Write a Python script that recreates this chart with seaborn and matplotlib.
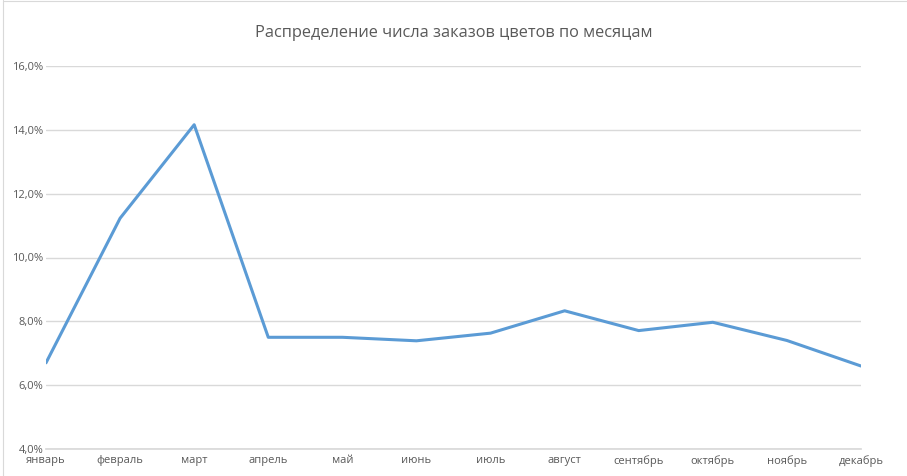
import matplotlib
matplotlib.use("Agg")
import matplotlib.pyplot as plt
import seaborn as sns
import pandas as pd
from matplotlib.lines import Line2D
from matplotlib.ticker import FuncFormatter, MultipleLocator

months = ["январь", "февраль", "март", "апрель", "май", "июнь",
          "июль", "август", "сентябрь", "октябрь", "ноябрь", "декабрь"]
share = [6.70, 11.23, 14.16, 7.50, 7.50, 7.39, 7.63, 8.33, 7.71, 7.97, 7.40, 6.60]

title = "Распределение числа заказов цветов по месяцам"

sns.set_theme(style="white")
plt.rcParams['font.family'] = ['Open Sans', 'DejaVu Sans']

df = pd.DataFrame({"month": months, "share": share})

fig = plt.figure(figsize=(9.07, 4.76), dpi=100)
ax = fig.add_axes([46/907, 1-449/476, (861-46)/907, (449-66)/476])

sns.lineplot(data=df, x="month", y="share", ax=ax, color="#5B9BD5",
             linewidth=2.2, sort=False)

ax.set_xlim(0, len(months)-1)
ax.set_ylim(4, 16)
ax.yaxis.set_major_locator(MultipleLocator(2))
ax.yaxis.set_major_formatter(FuncFormatter(lambda v, p: f"{v:.1f}%".replace(".", ",")))
ax.grid(axis="y", color="#d9d9d9", linewidth=1)
ax.set_axisbelow(True)
for s in ["top", "right", "left"]:
    ax.spines[s].set_visible(False)
ax.spines["bottom"].set_color("#d9d9d9")
ax.set_xlabel("")
ax.set_ylabel("")
ax.tick_params(axis="both", length=0, labelsize=8, colors="#595959", pad=2)
ax.tick_params(axis="x", pad=4.5)

fig.text(0.5, 1-33/476, title, ha="center", va="center", fontsize=11.8, color="#595959")

# chart border (top and left edges visible in the reference)
fig.add_artist(Line2D([2.5/907, 2.5/907], [0, 1], transform=fig.transFigure,
                      color="#d9d9d9", linewidth=0.8))
fig.add_artist(Line2D([2.5/907, 1], [1-0.5/476, 1-0.5/476], transform=fig.transFigure,
                      color="#d9d9d9", linewidth=0.8))

fig.savefig("out.png", dpi=100, facecolor="white")
